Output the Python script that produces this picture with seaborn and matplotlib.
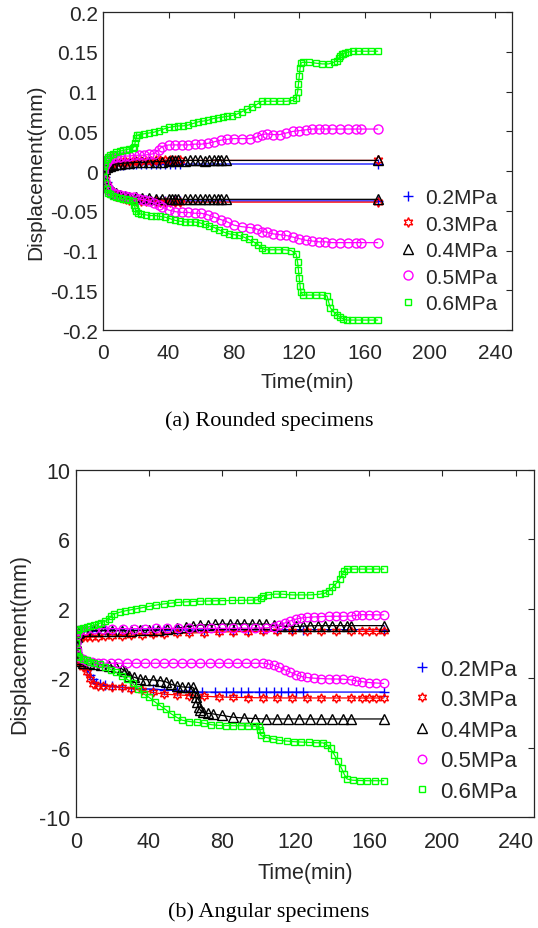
import numpy as np
import matplotlib
matplotlib.use("Agg")
import matplotlib.pyplot as plt
from matplotlib.lines import Line2D
import seaborn as sns

# ---------------- data ----------------
pressures = ["0.2MPa", "0.3MPa", "0.4MPa", "0.5MPa", "0.6MPa"]

# (a) Rounded specimens : (time min, displacement mm)
a_02_up = [(0,0),(1,0.002),(2,0.004),(3,0.005),(4,0.006),(6,0.007),(8,0.0075),(10,0.008),(12,0.008),(14,0.0085),(16,0.0085),(18,0.009),(20,0.009),(23,0.009),(26,0.009),(29,0.009),(32,0.009),(35,0.009),(38,0.009),(41,0.009),(44,0.009),(47,0.009),(168,0.009)]
a_02_lo = [(0,0),(1,-0.008),(2,-0.014),(3,-0.019),(4,-0.022),(6,-0.026),(8,-0.029),(10,-0.031),(12,-0.032),(14,-0.033),(16,-0.034),(18,-0.035),(20,-0.035),(23,-0.036),(26,-0.036),(29,-0.037),(32,-0.037),(35,-0.037),(38,-0.0375),(41,-0.0375),(44,-0.0375),(47,-0.0375),(168,-0.0375)]
a_03_up = [(0,0),(1,0.003),(2,0.005),(3,0.007),(4,0.008),(6,0.009),(8,0.010),(10,0.011),(12,0.0115),(14,0.012),(16,0.012),(18,0.0125),(20,0.0125),(23,0.013),(26,0.013),(29,0.013),(32,0.0135),(35,0.0135),(38,0.0135),(41,0.0135),(44,0.0135),(47,0.0135),(168,0.0135)]
a_03_lo = [(0,0),(1,-0.010),(2,-0.017),(3,-0.021),(4,-0.024),(6,-0.028),(8,-0.031),(10,-0.033),(12,-0.034),(14,-0.035),(16,-0.036),(18,-0.036),(20,-0.037),(23,-0.037),(26,-0.038),(29,-0.038),(32,-0.038),(35,-0.0385),(38,-0.039),(41,-0.039),(44,-0.039),(47,-0.039),(168,-0.039)]
a_04_up = [(0,0),(1,0.003),(2,0.005),(3,0.006),(4,0.007),(6,0.008),(8,0.009),(10,0.0095),(13,0.010),(16,0.0105),(20,0.011),(24,0.011),(28,0.0115),(32,0.012),(36,0.012),(40,0.013),(42,0.014),(44,0.013),(46,0.0135),(50,0.013),(53,0.0135),(56,0.0135),(59,0.0135),(62,0.013),(65,0.0135),(68,0.014),(70,0.0145),(72,0.014),(75,0.0135),(168,0.0135)]
a_04_lo = [(0,0),(1,-0.009),(2,-0.015),(3,-0.020),(4,-0.023),(6,-0.026),(8,-0.028),(10,-0.030),(13,-0.031),(16,-0.032),(20,-0.033),(24,-0.034),(28,-0.034),(32,-0.0345),(36,-0.035),(40,-0.035),(42,-0.035),(44,-0.035),(46,-0.0355),(50,-0.0355),(53,-0.0355),(56,-0.0355),(59,-0.0355),(62,-0.0355),(65,-0.0355),(68,-0.0355),(70,-0.0355),(72,-0.0355),(75,-0.0355),(168,-0.0355)]
a_05_up = [(0,0),(1,0.008),(2,0.012),(3,0.014),(4,0.016),(6,0.017),(8,0.018),(10,0.018),(13,0.019),(16,0.019),(19,0.020),(22,0.020),(25,0.020),(28,0.021),(31,0.022),(34,0.027),(36,0.031),(40,0.033),(44,0.033),(48,0.033),(52,0.033),(56,0.034),(60,0.034),(64,0.035),(68,0.037),(72,0.039),(76,0.040),(80,0.041),(85,0.041),(90,0.041),(94,0.043),(97,0.046),(100,0.047),(104,0.046),(108,0.046),(112,0.048),(116,0.050),(120,0.051),(124,0.052),(128,0.053),(132,0.053),(136,0.053),(140,0.053),(145,0.053),(150,0.053),(155,0.053),(158,0.053),(168,0.053)]
a_05_lo = [(0,0),(1,-0.012),(2,-0.019),(3,-0.022),(4,-0.025),(6,-0.027),(8,-0.029),(10,-0.030),(13,-0.031),(16,-0.032),(19,-0.033),(22,-0.035),(25,-0.036),(28,-0.038),(31,-0.040),(34,-0.043),(36,-0.045),(40,-0.049),(44,-0.051),(48,-0.052),(52,-0.052),(56,-0.053),(60,-0.053),(64,-0.055),(68,-0.058),(72,-0.061),(76,-0.064),(80,-0.068),(85,-0.070),(90,-0.071),(94,-0.073),(97,-0.076),(100,-0.077),(104,-0.079),(108,-0.080),(112,-0.081),(116,-0.083),(120,-0.085),(124,-0.087),(128,-0.088),(132,-0.089),(136,-0.089),(140,-0.090),(145,-0.090),(150,-0.090),(155,-0.090),(158,-0.090),(168,-0.090)]
a_06_up = [(0,0),(0.5,0.006),(1,0.010),(2,0.015),(3,0.018),(4,0.020),(6,0.022),(8,0.024),(10,0.025),(12,0.026),(14,0.027),(16,0.028),(18,0.029),(19,0.031),(19.5,0.036),(20,0.042),(20.5,0.045),(22,0.046),(25,0.047),(28,0.048),(31,0.049),(34,0.051),(37,0.053),(40,0.055),(43,0.056),(46,0.057),(49,0.057),(52,0.058),(55,0.060),(58,0.062),(61,0.063),(64,0.064),(67,0.066),(70,0.067),(73,0.068),(76,0.069),(79,0.070),(82,0.072),(85,0.075),(88,0.078),(91,0.081),(94,0.084),(97,0.088),(100,0.088),(104,0.088),(108,0.088),(112,0.088),(116,0.089),(118,0.092),(119,0.100),(119.5,0.110),(120,0.120),(120.5,0.130),(121,0.136),(122,0.137),(126,0.137),(130,0.136),(134,0.135),(138,0.135),(141,0.137),(143,0.139),(144,0.142),(145,0.145),(146,0.147),(147,0.148),(148,0.149),(150,0.150),(153,0.151),(156,0.151),(160,0.151),(164,0.151),(168,0.151)]
a_06_lo = [(0,0),(0.5,-0.008),(1,-0.015),(2,-0.022),(3,-0.027),(4,-0.029),(6,-0.031),(8,-0.033),(10,-0.034),(12,-0.035),(14,-0.035),(16,-0.036),(18,-0.0375),(19,-0.042),(19.5,-0.047),(20,-0.050),(21,-0.053),(23,-0.054),(26,-0.055),(29,-0.056),(32,-0.056),(35,-0.057),(38,-0.058),(41,-0.060),(44,-0.062),(47,-0.063),(50,-0.064),(53,-0.064),(56,-0.064),(59,-0.065),(62,-0.067),(65,-0.069),(68,-0.071),(71,-0.074),(74,-0.077),(77,-0.079),(80,-0.080),(83,-0.081),(86,-0.083),(89,-0.086),(92,-0.089),(95,-0.093),(97,-0.097),(99,-0.099),(103,-0.099),(107,-0.099),(111,-0.099),(115,-0.100),(118,-0.104),(119,-0.115),(119.5,-0.125),(120,-0.135),(120.5,-0.145),(121,-0.152),(122,-0.156),(126,-0.156),(130,-0.156),(134,-0.156),(137,-0.157),(138,-0.165),(139,-0.172),(141,-0.177),(143,-0.181),(145,-0.184),(147,-0.186),(149,-0.1875),(152,-0.1875),(156,-0.1875),(160,-0.1875),(164,-0.1875),(168,-0.1875)]

# (b) Angular specimens
b_02_up = [(0,0),(0.5,0.4),(1,0.6),(2,0.65),(4,0.70),(6,0.72),(9,0.74),(12,0.75),(16,0.76),(20,0.76),(25,0.76),(30,0.76),(36,0.77),(42,0.77),(48,0.77),(55,0.77),(62,0.78),(70,0.78),(78,0.78),(86,0.79),(94,0.79),(102,0.79),(110,0.79),(118,0.80),(124,0.80),(168,0.80)]
b_02_lo = [(0,0),(0.5,-0.5),(1,-0.8),(2,-0.95),(4,-1.15),(6,-1.45),(8,-1.8),(9.5,-2.05),(11,-2.25),(13,-2.35),(16,-2.42),(20,-2.47),(25,-2.52),(30,-2.56),(36,-2.60),(42,-2.63),(48,-2.67),(55,-2.72),(62,-2.76),(69,-2.80),(76,-2.80),(82,-2.80),(86,-2.80),(90,-2.80),(94,-2.80),(100,-2.80),(104,-2.80),(108,-2.80),(112,-2.80),(116,-2.80),(120,-2.80),(124,-2.80),(168,-2.80)]
b_03_up = [(0,0),(0.5,0.3),(1,0.4),(2,0.42),(4,0.40),(6,0.36),(9,0.37),(12,0.39),(16,0.41),(20,0.43),(25,0.45),(30,0.48),(36,0.50),(42,0.53),(48,0.55),(55,0.58),(62,0.60),(70,0.63),(78,0.66),(86,0.68),(94,0.69),(102,0.70),(110,0.70),(118,0.70),(126,0.70),(134,0.70),(142,0.70),(150,0.70),(156,0.70),(160,0.70),(164,0.70),(168,0.70)]
b_03_lo = [(0,0),(0.5,-0.6),(1,-0.9),(2,-1.1),(4,-1.35),(6,-1.66),(8,-2.05),(9.5,-2.33),(12,-2.45),(15,-2.47),(20,-2.50),(25,-2.53),(30,-2.60),(36,-2.70),(42,-2.82),(48,-2.92),(55,-2.96),(62,-3.00),(70,-3.04),(78,-3.08),(86,-3.10),(94,-3.12),(102,-3.13),(110,-3.14),(118,-3.14),(126,-3.14),(134,-3.14),(142,-3.14),(150,-3.14),(156,-3.14),(160,-3.14),(164,-3.14),(168,-3.14)]
b_04_up = [(0,0),(0.5,0.4),(1,0.6),(2,0.64),(5,0.70),(10,0.74),(15,0.74),(20,0.74),(25,0.74),(30,0.74),(35,0.75),(40,0.76),(45,0.78),(50,0.82),(55,0.88),(60,0.96),(64,1.03),(68,1.06),(72,1.08),(76,1.10),(80,1.12),(84,1.12),(88,1.13),(92,1.13),(96,1.12),(100,1.12),(104,1.12),(108,1.05),(112,1.00),(116,0.98),(120,0.98),(124,1.00),(128,1.02),(132,1.03),(136,1.03),(140,1.03),(144,1.03),(148,1.03),(150,1.03),(168,1.03)]
b_04_lo = [(0,0),(0.5,-0.6),(1,-0.9),(2,-1.0),(4,-1.1),(7,-1.15),(10,-1.18),(14,-1.22),(18,-1.28),(22,-1.35),(25,-1.45),(27,-1.6),(29,-1.85),(32,-1.95),(35,-2.05),(38,-2.08),(42,-2.10),(46,-2.14),(49,-2.20),(52,-2.35),(55,-2.45),(58,-2.50),(61,-2.52),(64,-2.53),(65,-2.8),(65.5,-3.1),(66,-3.4),(67,-3.65),(68,-3.85),(69.5,-3.97),(72,-4.03),(75,-4.06),(80,-4.15),(86,-4.25),(92,-4.30),(98,-4.33),(104,-4.35),(110,-4.35),(116,-4.35),(122,-4.35),(128,-4.35),(134,-4.35),(140,-4.35),(146,-4.35),(150,-4.35),(168,-4.35)]
b_05_up = [(0,0),(0.5,0.5),(1,0.7),(2,0.75),(5,0.80),(10,0.84),(15,0.85),(20,0.86),(26,0.86),(32,0.86),(38,0.86),(44,0.87),(50,0.87),(56,0.87),(62,0.87),(68,0.87),(74,0.87),(80,0.87),(86,0.87),(92,0.88),(98,0.89),(104,0.90),(108,0.95),(111,1.05),(114,1.18),(117,1.30),(120,1.40),(123,1.47),(126,1.50),(130,1.53),(134,1.55),(138,1.57),(142,1.57),(146,1.57),(150,1.58),(153,1.62),(156,1.66),(160,1.66),(164,1.65),(168,1.65)]
b_05_lo = [(0,0),(0.5,-0.4),(1,-0.65),(2,-0.75),(4,-0.9),(6,-0.99),(9,-1.07),(12,-1.11),(15,-1.13),(19,-1.14),(23,-1.14),(28,-1.14),(33,-1.14),(38,-1.14),(43,-1.14),(48,-1.14),(53,-1.14),(58,-1.14),(63,-1.14),(68,-1.14),(73,-1.14),(78,-1.14),(83,-1.14),(88,-1.14),(93,-1.14),(98,-1.14),(102,-1.14),(105,-1.18),(108,-1.25),(111,-1.38),(114,-1.52),(117,-1.65),(120,-1.80),(123,-1.90),(126,-1.96),(130,-2.00),(134,-2.02),(138,-2.04),(142,-2.05),(146,-2.06),(150,-2.10),(153,-2.16),(156,-2.20),(160,-2.25),(164,-2.28),(168,-2.30)]
b_06_up = [(0,0),(0.5,0.55),(1,0.8),(2,0.86),(4,0.90),(6,0.93),(8,0.98),(10,1.05),(12,1.12),(14,1.20),(16,1.28),(18,1.40),(19.5,1.60),(21,1.70),(24,1.80),(27,1.88),(30,1.94),(33,2.00),(36,2.06),(40,2.14),(44,2.22),(48,2.28),(52,2.33),(56,2.37),(60,2.40),(64,2.42),(68,2.44),(72,2.45),(76,2.46),(80,2.47),(85,2.48),(90,2.49),(95,2.50),(99,2.51),(101,2.62),(102,2.74),(105,2.80),(109,2.85),(113,2.84),(118,2.80),(123,2.80),(128,2.80),(133,2.84),(136,2.90),(138,3.05),(140,3.24),(142,3.45),(144,3.72),(145.5,4.0),(146.5,4.2),(148,4.29),(152,4.29),(156,4.29),(160,4.29),(164,4.29),(168,4.29)]
b_06_lo = [(0,0),(0.5,-0.5),(1,-0.7),(2,-0.8),(4,-0.9),(6,-0.98),(8,-1.04),(10,-1.10),(13,-1.20),(16,-1.33),(19,-1.50),(22,-1.65),(25,-1.85),(28,-2.05),(31,-2.30),(34,-2.60),(37,-2.90),(40,-3.10),(43,-3.35),(46,-3.58),(49,-3.80),(52,-4.05),(55,-4.25),(58,-4.42),(62,-4.50),(66,-4.54),(70,-4.60),(74,-4.68),(78,-4.72),(82,-4.73),(86,-4.74),(90,-4.74),(94,-4.75),(98,-4.76),(100,-4.77),(100.5,-5.0),(101,-5.3),(104,-5.42),(107.5,-5.50),(111,-5.58),(115,-5.62),(119,-5.66),(123,-5.68),(127,-5.70),(131,-5.72),(135,-5.73),(137,-5.85),(139,-6.05),(141,-6.40),(143,-6.80),(145,-7.20),(146.5,-7.55),(148,-7.81),(151,-7.88),(155,-7.90),(159,-7.91),(163,-7.91),(168,-7.91)]

x_ticks = [0, 40, 80, 120, 160, 200, 240]
a_y_ticks = [0.2, 0.15, 0.1, 0.05, 0, -0.05, -0.1, -0.15, -0.2]
a_y_ticklabels = ["0.2", "0.15", "0.1", "0.05", "0", "-0.05", "-0.1", "-0.15", "-0.2"]
b_y_ticks = [10, 6, 2, -2, -6, -10]
b_y_ticklabels = ["10", "6", "2", "-2", "-6", "-10"]

# ---------------- styling ----------------
sns.set_theme(style="white")
plt.rcParams["font.family"] = ["Liberation Sans", "DejaVu Sans"]
plt.rcParams["axes.unicode_minus"] = False

colors = ["#0000ff", "#ff0000", "#000000", "#ff00ff", "#00ff00"]
markers = ["+", (6, 1, 0), "^", "o", "s"]
msizes = [7, 7, 7, 6.5, 5]

fig = plt.figure(figsize=(5.38, 9.29), dpi=100)
ax_a = fig.add_axes([0.192, 0.6437, 0.759, 0.342])
ax_b = fig.add_axes([0.1407, 0.1195, 0.852, 0.3735])

a_sets = [(a_02_up, a_02_lo), (a_03_up, a_03_lo), (a_04_up, a_04_lo), (a_05_up, a_05_lo), (a_06_up, a_06_lo)]
b_sets = [(b_02_up, b_02_lo), (b_03_up, b_03_lo), (b_04_up, b_04_lo), (b_05_up, b_05_lo), (b_06_up, b_06_lo)]


def draw(ax, sets, ms_scale):
    for i, branches in enumerate(sets):
        for br in branches:
            arr = np.array(br, dtype=float)
            sns.lineplot(x=arr[:, 0], y=arr[:, 1], ax=ax, color=colors[i],
                         marker=markers[i], markersize=msizes[i] * ms_scale,
                         markerfacecolor="none", markeredgecolor=colors[i],
                         markeredgewidth=1.0, linewidth=0.9,
                         sort=False, estimator=None, legend=False)


draw(ax_a, a_sets, 1.0)
draw(ax_b, b_sets, 0.95)


def style_axes(ax, yticks, yticklabels, ylim, fs, ylab_x, xlab_y, xpad):
    ax.set_xlim(0, 250)
    ax.set_ylim(*ylim)
    ax.set_xticks(x_ticks)
    ax.set_xticklabels([str(v) for v in x_ticks])
    ax.set_yticks(yticks)
    ax.set_yticklabels(yticklabels)
    ax.tick_params(direction="in", top=True, right=True, length=4, width=0.8,
                   labelsize=fs, colors="#262626", labelcolor="#262626")
    ax.tick_params(axis="x", pad=xpad)
    ax.tick_params(axis="y", pad=4)
    for s in ax.spines.values():
        s.set_color("#262626")
        s.set_linewidth(0.9)
        s.set_visible(True)
    ax.set_xlabel("Time(min)", fontsize=fs, color="#262626")
    ax.set_ylabel("Displacement(mm)", fontsize=fs, color="#262626")
    ax.xaxis.set_label_coords(0.5, xlab_y)
    ax.yaxis.set_label_coords(ylab_x, 0.5)
    ax.grid(False)


style_axes(ax_a, a_y_ticks, a_y_ticklabels, (-0.2, 0.2), 15, -0.143, -0.132, 9)
style_axes(ax_b, b_y_ticks, b_y_ticklabels, (-10, 10), 15.5, -0.099, -0.13, 10)


def add_legend(ax, fs, x0, ms_scale, lsp):
    handles = [Line2D([], [], linestyle="none", marker=markers[i], color=colors[i],
                      markerfacecolor="none", markeredgecolor=colors[i],
                      markeredgewidth=1.0, markersize=msizes[i] * ms_scale)
               for i in range(len(pressures))]
    ax.legend(handles, pressures, loc="center left", bbox_to_anchor=(x0, 0.25),
              frameon=False, fontsize=fs, handlelength=0.8, handletextpad=0.4,
              labelspacing=lsp, borderpad=0, borderaxespad=0)


add_legend(ax_a, 15, 0.726, 1.0, 0.36)
add_legend(ax_b, 16, 0.737, 0.95, 0.43)

fig.text(0.5, 0.5468, "(a) Rounded specimens", ha="center", va="center",
         family=["Liberation Serif", "DejaVu Serif"], fontsize=16, color="black")
fig.text(0.5, 0.0183, "(b) Angular specimens", ha="center", va="center",
         family=["Liberation Serif", "DejaVu Serif"], fontsize=16, color="black")

fig.savefig("out.png", dpi=100)
